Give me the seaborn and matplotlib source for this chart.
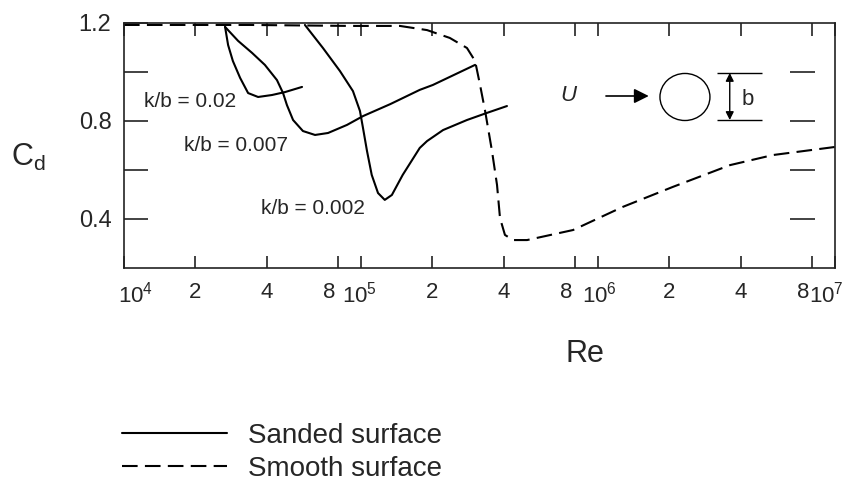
import numpy as np
import pandas as pd
import matplotlib
matplotlib.use('Agg')
import matplotlib.pyplot as plt
import matplotlib.transforms as mtransforms
import seaborn as sns
from matplotlib.patches import Ellipse
from matplotlib.ticker import NullLocator

# 数据
re_kb002 = [2.67e4, 2.75e4, 2.88e4, 3.09e4, 3.34e4, 3.68e4, 4.21e4, 4.78e4, 5.64e4]
cd_kb002 = [1.184, 1.110, 1.045, 0.976, 0.914, 0.898, 0.906, 0.918, 0.939]

re_kb0007 = [2.67e4, 3.03e4, 3.47e4, 3.93e4, 4.42e4, 4.69e4, 4.87e4, 5.17e4, 5.69e4,
             6.40e4, 7.26e4, 8.73e4, 1.02e5, 1.33e5, 1.77e5, 2.01e5, 3.03e5]
cd_kb0007 = [1.184, 1.127, 1.078, 1.029, 0.967, 0.914, 0.865, 0.804, 0.759,
             0.743, 0.751, 0.784, 0.820, 0.869, 0.927, 0.947, 1.029]

re_kb0002 = [5.80e4, 6.91e4, 8.15e4, 9.25e4, 9.90e4, 1.02e5, 1.06e5, 1.11e5, 1.18e5,
             1.26e5, 1.35e5, 1.50e5, 1.77e5, 1.90e5, 2.22e5, 2.80e5, 3.40e5, 4.13e5]
cd_kb0002 = [1.192, 1.098, 1.004, 0.922, 0.841, 0.771, 0.678, 0.580, 0.506,
             0.478, 0.498, 0.580, 0.690, 0.718, 0.763, 0.804, 0.833, 0.861]

re_smooth = [1e4, 3.40e4, 9.00e4, 1.46e5, 1.90e5, 2.37e5, 2.80e5, 3.03e5, 3.18e5, 3.34e5,
             3.57e5, 3.75e5, 3.86e5, 4.05e5, 4.38e5, 5.02e5, 7.85e5, 1.27e6, 2.07e6,
             3.61e6, 5.47e6, 1e7]
cd_smooth = [1.192, 1.192, 1.188, 1.188, 1.171, 1.139, 1.098, 1.045, 0.947, 0.841,
             0.678, 0.539, 0.404, 0.335, 0.314, 0.314, 0.355, 0.449, 0.531,
             0.620, 0.661, 0.694]

x_ticks = [1e4, 2e4, 4e4, 8e4, 1e5, 2e5, 4e5, 8e5, 1e6, 2e6, 4e6, 8e6, 1e7]
x_ticklabels = [r'$\mathregular{10^4}$', '2', '4', '8', r'$\mathregular{10^5}$', '2', '4', '8',
                r'$\mathregular{10^6}$', '2', '4', '8', r'$\mathregular{10^7}$']
# 标签水平微调（像素），避免 8 与 10^n 重叠
x_label_shift = [12, 0, 0, -9, -1, 0, 0, -9, 1, 0, 0, -9, -9]
y_ticks = [0.4, 0.6, 0.8, 1.0, 1.2]
y_ticklabels = ['0.4', '', '0.8', '', '1.2']
right_marks = [0.4, 0.6, 0.8, 1.0]

curves = [
    ('k/b = 0.02', 'Sanded surface', re_kb002, cd_kb002),
    ('k/b = 0.007', 'Sanded surface', re_kb0007, cd_kb0007),
    ('k/b = 0.002', 'Sanded surface', re_kb0002, cd_kb0002),
    ('smooth', 'Smooth surface', re_smooth, cd_smooth),
]
df = pd.concat([pd.DataFrame({'Re': r, 'Cd': c, 'curve': name, 'surface': surf})
                for name, surf, r, c in curves], ignore_index=True)

sns.set_theme(style='ticks')
plt.rcParams['font.family'] = ['Liberation Sans', 'DejaVu Sans']
plt.rcParams['mathtext.fontset'] = 'custom'
plt.rcParams['mathtext.rm'] = 'Liberation Sans'
plt.rcParams['mathtext.it'] = 'Liberation Sans:italic'

fig = plt.figure(figsize=(8.64, 4.87), dpi=100)
ax = fig.add_axes([0.1435, 0.4497, 0.8229, 0.5031])

sns.lineplot(data=df, x='Re', y='Cd', style='surface', units='curve', estimator=None,
             sort=False, color='black', linewidth=1.5,
             style_order=['Sanded surface', 'Smooth surface'],
             dashes={'Sanded surface': '', 'Smooth surface': (7.5, 3.5)}, ax=ax)

ax.set_xscale('log')
ax.set_xlim(1e4, 1e7)
ax.set_ylim(0.2, 1.2)
ax.set_xticks(x_ticks)
ax.set_xticklabels(x_ticklabels)
ax.xaxis.set_minor_locator(NullLocator())
ax.set_yticks(y_ticks)
ax.set_yticklabels(y_ticklabels)

ax.tick_params(axis='x', direction='in', length=9, width=1.2, top=True, bottom=True,
               labelsize=16, pad=10, color='#222222')
ax.tick_params(axis='y', direction='in', length=17, width=1.2, left=True, right=False,
               labelsize=17, pad=9, color='#222222')
for lab, dx in zip(ax.get_xticklabels(), x_label_shift):
    lab.set_transform(lab.get_transform() +
                      mtransforms.ScaledTranslation(dx / 100, 0, fig.dpi_scale_trans))
for sp in ax.spines.values():
    sp.set_linewidth(1.2)
    sp.set_color('#222222')
    sp.set_visible(True)

# 右侧浮动刻度
ax.hlines(right_marks, 0.937, 0.972, transform=ax.get_yaxis_transform(),
          color='#222222', linewidth=1.2)

ax.set_xlabel('Re', fontsize=22)
ax.xaxis.set_label_coords(0.648, -0.29)
ax.set_ylabel(r'$\mathregular{C_d}$', fontsize=22, rotation=0, va='center')
ax.yaxis.set_label_coords(-0.135, 0.45)

# 曲线标注
ax.text(1.90e4, 0.878, 'k/b = 0.02', fontsize=15, ha='center', va='center')
ax.text(2.97e4, 0.702, 'k/b = 0.007', fontsize=15, ha='center', va='center')
ax.text(6.27e4, 0.441, 'k/b = 0.002', fontsize=15, ha='center', va='center')

# 圆柱示意图
ax.text(0.6245, 0.702, 'U', fontsize=16, style='italic', ha='center', va='center',
        transform=ax.transAxes)
ax.annotate('', xy=(0.742, 0.702), xytext=(0.674, 0.702), xycoords='axes fraction',
            arrowprops=dict(arrowstyle='-|>', color='black', lw=1.2, mutation_scale=22))
ax.add_patch(Ellipse((0.789, 0.698), 0.0703, 0.192, transform=ax.transAxes,
                     fill=False, edgecolor='black', linewidth=1.0))
ax.hlines([0.796, 0.604], 0.834, 0.897, transform=ax.transAxes, color='black', linewidth=1.0)
ax.annotate('', xy=(0.852, 0.796), xytext=(0.852, 0.604), xycoords='axes fraction',
            arrowprops=dict(arrowstyle='<|-|>', color='black', lw=1.0, mutation_scale=12,
                            shrinkA=0, shrinkB=0))
ax.text(0.878, 0.686, 'b', fontsize=16, ha='center', va='center', transform=ax.transAxes)

sns.move_legend(ax, loc='upper left', bbox_to_anchor=(0.141, 0.131),
                bbox_transform=fig.transFigure, frameon=False, title=None,
                fontsize=20, handlelength=3.8, handletextpad=0.75,
                labelspacing=0.25, borderpad=0, borderaxespad=0)

fig.savefig('out.png', dpi=100)
